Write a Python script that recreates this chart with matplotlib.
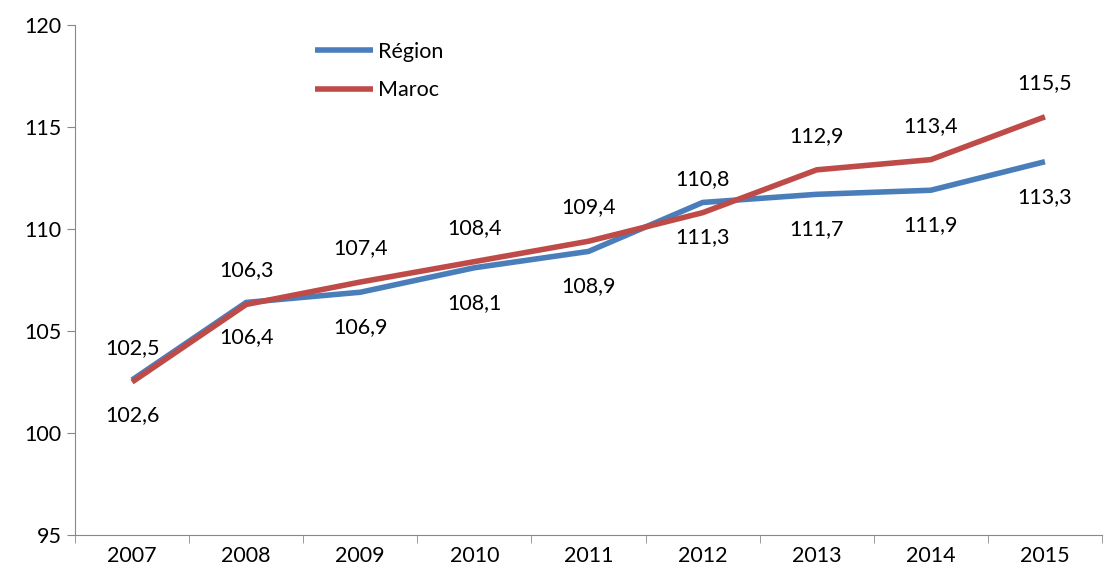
import numpy as np
import matplotlib.pyplot as plt

years = ["2007", "2008", "2009", "2010", "2011", "2012", "2013", "2014", "2015"]
region = [102.6, 106.4, 106.9, 108.1, 108.9, 111.3, 111.7, 111.9, 113.3]
maroc = [102.5, 106.3, 107.4, 108.4, 109.4, 110.8, 112.9, 113.4, 115.5]

plt.rcParams['font.family'] = ['Lato', 'DejaVu Sans']

blue = "#4a7ebb"
red = "#be4b48"

fig = plt.figure(figsize=(11.04, 5.78), dpi=100)
ax = fig.add_axes([75 / 1104, 43 / 578, 1027 / 1104, 510 / 578])

x = np.arange(len(years))
ax.plot(x, region, color=blue, lw=4, label="Région", solid_capstyle="butt")
ax.plot(x, maroc, color=red, lw=4, label="Maroc", solid_capstyle="butt")

def fmt(v):
    return ("%.1f" % v).replace(".", ",")

for i in range(len(years)):
    ax.annotate(fmt(maroc[i]), (x[i], maroc[i]), xytext=(0, 34), textcoords="offset pixels",
                ha="center", va="center", fontsize=15.5)
    ax.annotate(fmt(region[i]), (x[i], region[i]), xytext=(0, -35), textcoords="offset pixels",
                ha="center", va="center", fontsize=15.5)

ax.set_xlim(-0.5, len(years) - 0.5)
ax.set_ylim(95, 120)
ax.set_yticks([95, 100, 105, 110, 115, 120])
ax.set_xticks(x)
ax.set_xticklabels(years)
ax.set_xticks(np.arange(-0.5, len(years), 1), minor=True)
ax.tick_params(axis="x", which="major", length=0, labelsize=15.5, pad=8)
ax.tick_params(axis="x", which="minor", length=6, color="#888888")
ax.tick_params(axis="y", length=6, labelsize=15.5, color="#888888")

for s in ["top", "right"]:
    ax.spines[s].set_visible(False)
for s in ["left", "bottom"]:
    ax.spines[s].set_color("#888888")

ax.legend(loc="upper left", bbox_to_anchor=(0.215, 1.005), frameon=False, fontsize=15.5,
          handlelength=2.7, handletextpad=0.2, labelspacing=0.85)

fig.savefig("out.png", dpi=100)
